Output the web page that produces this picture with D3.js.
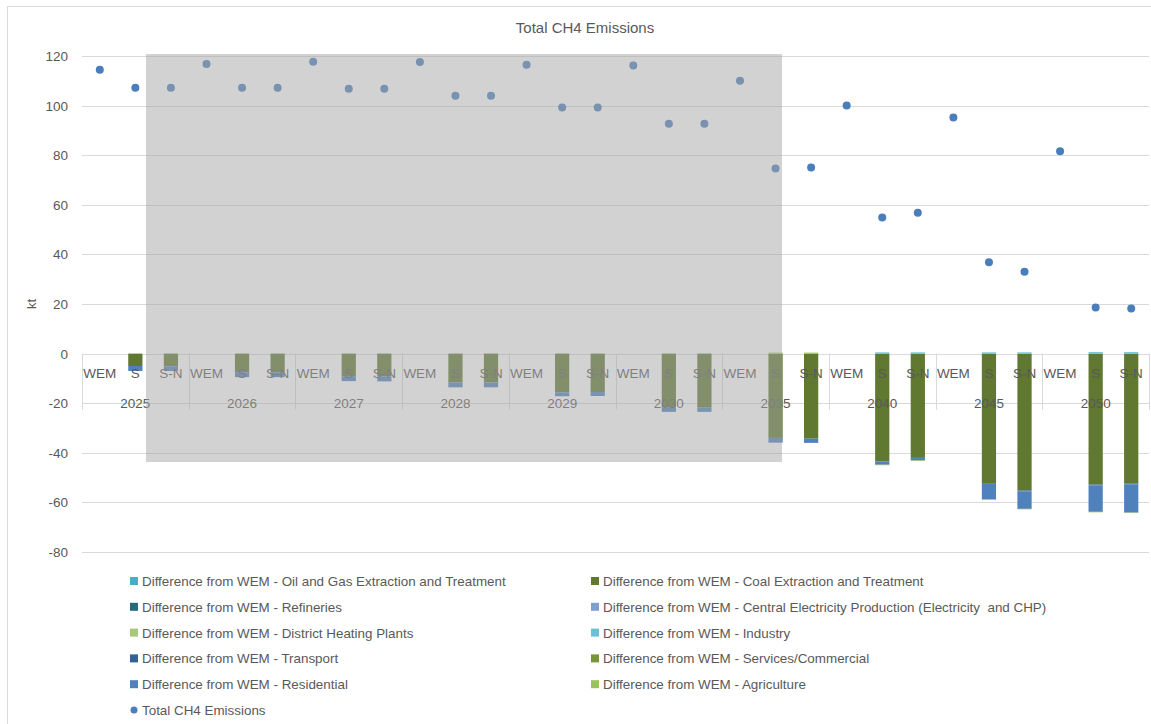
<!DOCTYPE html>
<html>
<head>
<meta charset="utf-8">
<script src="https://cdn.jsdelivr.net/npm/d3@7"></script>
<style>
  body { margin: 0; background: #fff; }
  text { font-family: "Liberation Sans", "DejaVu Sans", sans-serif; fill: #595959; white-space: pre; }
</style>
</head>
<body>
<div id="chart"></div>
<script>
// categories
const years = ["2025", "2026", "2027", "2028", "2029", "2030", "2035", "2040", "2045", "2050"];
const scenarios = ["WEM", "S", "S-N"];
const yTicks = [-80, -60, -40, -20, 0, 20, 40, 60, 80, 100, 120];

// total emissions (kt), WEM / S / S-N per year
const totalCH4 = [
  114.5, 107.2, 107.2,
  116.8, 107.2, 107.2,
  117.7, 106.8, 106.8,
  117.6, 104.0, 104.0,
  116.5, 99.2, 99.2,
  116.2, 92.7, 92.7,
  110.0, 74.6, 75.0,
  100.0, 54.9, 56.8,
  95.2, 36.8, 33.0,
  81.6, 18.6, 18.2
];

// differences from WEM by sector (kt)
const diffOilGas = new Array(30).fill(0);
const diffCoal = [
  0, -5.0, -5.1,
  0, -7.5, -7.5,
  0, -9.1, -9.2,
  0, -11.6, -11.6,
  0, -15.6, -15.5,
  0, -21.8, -21.8,
  0, -34.0, -34.3,
  0, -43.5, -41.7,
  0, -52.2, -55.2,
  0, -52.8, -52.4
];
const diffRefineries = new Array(30).fill(0);
const diffCentralElec = new Array(30).fill(0);
const diffDistrictHeat = new Array(30).fill(0);
const diffIndustry = [
  0, 0, 0,  0, 0, 0,  0, 0, 0,  0, 0, 0,  0, 0, 0,
  0, 0, 0,  0, 0, 0,
  0, 0.5, 0.5,
  0, 0.5, 0.5,
  0, 0.6, 0.6
];
const diffTransport = [
  0, 0, 0,  0, 0, 0,  0, 0, 0,  0, 0, 0,  0, 0, 0,
  0, 0, 0,  0, 0, 0,  0, 0, 0,
  0, -0.3, -0.4,
  0, -0.4, -0.4
];
const diffServices = new Array(30).fill(0);
const diffResidential = [
  0, -2.0, -1.9,
  0, -2.0, -2.0,
  0, -2.0, -2.0,
  0, -2.0, -2.0,
  0, -1.6, -1.6,
  0, -1.7, -1.7,
  0, -1.9, -1.7,
  0, -1.3, -1.4,
  0, -6.3, -7.0,
  0, -10.6, -11.3
];
const diffAgriculture = [
  0, 0, 0,  0, 0, 0,  0, 0, 0,  0, 0, 0,  0, 0, 0,  0, 0, 0,
  0, 0.4, 0.4,
  0, -0.2, -0.2,
  0, -0.2, -0.2,
  0, -0.2, -0.2
];

const series = [
  { name: "Difference from WEM - Oil and Gas Extraction and Treatment", values: diffOilGas, color: "#4bacc6" },
  { name: "Difference from WEM - Coal Extraction and Treatment", values: diffCoal, color: "#607830" },
  { name: "Difference from WEM - Refineries", values: diffRefineries, color: "#276a7c" },
  { name: "Difference from WEM - Central Electricity Production (Electricity  and CHP)", values: diffCentralElec, color: "#7f9fd3" },
  { name: "Difference from WEM - District Heating Plants", values: diffDistrictHeat, color: "#a9c97a" },
  { name: "Difference from WEM - Industry", values: diffIndustry, color: "#6cc0d6" },
  { name: "Difference from WEM - Transport", values: diffTransport, color: "#36609c" },
  { name: "Difference from WEM - Services/Commercial", values: diffServices, color: "#77963a" },
  { name: "Difference from WEM - Residential", values: diffResidential, color: "#4f81bd" },
  { name: "Difference from WEM - Agriculture", values: diffAgriculture, color: "#9bc35a" }
];

const width = 1151, height = 724;
const plot = { left: 82, right: 1149, top: 56, bottom: 552 };

// one row per category
let rows = [];
years.forEach(function (yr, i) {
  scenarios.forEach(function (sc, j) {
    let idx = i * 3 + j;
    let r = { key: yr + "|" + sc, year: yr, scen: sc, total: totalCH4[idx] };
    series.forEach(function (s, k) { r["s" + k] = s.values[idx]; });
    rows.push(r);
  });
});

let svg = d3.select("#chart")
  .append("svg")
    .attr("width", width)
    .attr("height", height);

// chart frame
svg.append("rect")
  .attr("x", 7.5).attr("y", 6.5)
  .attr("width", width).attr("height", height)
  .attr("fill", "none")
  .attr("stroke", "#d9d9d9");

var x = d3.scaleBand()
  .domain(rows.map(function (d) { return d.key; }))
  .range([plot.left, plot.right])
  .paddingInner(0.6)
  .paddingOuter(0.3);
var xYear = d3.scaleBand().domain(years).range([plot.left, plot.right]);
var y = d3.scaleLinear().domain([-80, 120]).range([plot.bottom, plot.top]);

// gridlines
svg.append("g")
  .selectAll("line")
  .data(yTicks)
  .enter()
  .append("line")
  .attr("x1", plot.left).attr("x2", plot.right)
  .attr("y1", function (d) { return Math.round(y(d)) + 0.5; })
  .attr("y2", function (d) { return Math.round(y(d)) + 0.5; })
  .attr("stroke", "#d9d9d9");

// y tick labels
svg.append("g")
  .selectAll("text")
  .data(yTicks)
  .enter()
  .append("text")
  .attr("x", 68)
  .attr("y", function (d) { return y(d) + 5; })
  .attr("text-anchor", "end")
  .style("font-size", "13.5px")
  .text(function (d) { return d; });

svg.append("text")
  .attr("transform", "translate(36," + y(20) + ") rotate(-90)")
  .attr("text-anchor", "middle")
  .style("font-size", "13px")
  .text("kt");

// stacked bars
var stack = d3.stack()
  .keys(series.map(function (s, k) { return "s" + k; }))
  .offset(d3.stackOffsetDiverging);
var layers = stack(rows);

svg.append("g")
  .selectAll("g")
  .data(layers)
  .enter()
  .append("g")
  .attr("fill", function (d, k) { return series[k].color; })
  .selectAll("rect")
  .data(function (d) { return d; })
  .enter()
  .append("rect")
  .attr("x", function (d) { return x(d.data.key); })
  .attr("y", function (d) { return y(d[1]); })
  .attr("width", x.bandwidth())
  .attr("height", function (d) { return Math.abs(y(d[0]) - y(d[1])); });

// category axis: scenario labels, year labels, separators
var axis = svg.append("g");
axis.selectAll(".scen")
  .data(rows)
  .enter()
  .append("text")
  .attr("x", function (d) { return x(d.key) + x.bandwidth() / 2; })
  .attr("y", y(0) + 24)
  .attr("text-anchor", "middle")
  .style("font-size", "13.5px")
  .text(function (d) { return d.scen; });

axis.selectAll(".yr")
  .data(years)
  .enter()
  .append("text")
  .attr("x", function (d) { return xYear(d) + xYear.bandwidth() / 2; })
  .attr("y", y(0) + 54)
  .attr("text-anchor", "middle")
  .style("font-size", "13.5px")
  .text(function (d) { return d; });

axis.selectAll("line")
  .data(years.concat(["end"]))
  .enter()
  .append("line")
  .attr("x1", function (d) { return d === "end" ? plot.right + 0.5 : Math.round(xYear(d)) + 0.5; })
  .attr("x2", function (d) { return d === "end" ? plot.right + 0.5 : Math.round(xYear(d)) + 0.5; })
  .attr("y1", y(0))
  .attr("y2", y(0) + 56)
  .attr("stroke", "#d9d9d9");

// total emissions markers
svg.append("g")
  .selectAll("circle")
  .data(rows)
  .enter()
  .append("circle")
  .attr("cx", function (d) { return x(d.key) + x.bandwidth() / 2; })
  .attr("cy", function (d) { return y(d.total); })
  .attr("r", 4)
  .attr("fill", "#4a7ebb");

// grey box laid over part of the chart
svg.append("rect")
  .attr("x", 146).attr("y", 54)
  .attr("width", 636).attr("height", 408)
  .attr("fill", "#a6a6a6")
  .attr("opacity", 0.5);

// title
svg.append("text")
  .attr("x", 585).attr("y", 33)
  .attr("text-anchor", "middle")
  .style("font-size", "15px")
  .text("Total CH4 Emissions");

// legend
var legendItems = series.map(function (s) { return { name: s.name, color: s.color, dot: false }; });
legendItems.push({ name: "Total CH4 Emissions", color: "#4a7ebb", dot: true });
var legend = svg.append("g")
  .selectAll("g")
  .data(legendItems)
  .enter()
  .append("g")
  .attr("transform", function (d, i) {
    return "translate(" + (i % 2 === 0 ? 130 : 591) + "," + (581 + Math.floor(i / 2) * 25.8) + ")";
  });
legend.filter(function (d) { return !d.dot; })
  .append("rect")
  .attr("x", 0).attr("y", -4)
  .attr("width", 8).attr("height", 8)
  .attr("fill", function (d) { return d.color; });
legend.filter(function (d) { return d.dot; })
  .append("circle")
  .attr("cx", 4).attr("cy", 0).attr("r", 3.5)
  .attr("fill", function (d) { return d.color; });
legend.append("text")
  .attr("x", 12).attr("y", 5)
  .style("font-size", "13.4px")
  .text(function (d) { return d.name; });
</script>
</body>
</html>
